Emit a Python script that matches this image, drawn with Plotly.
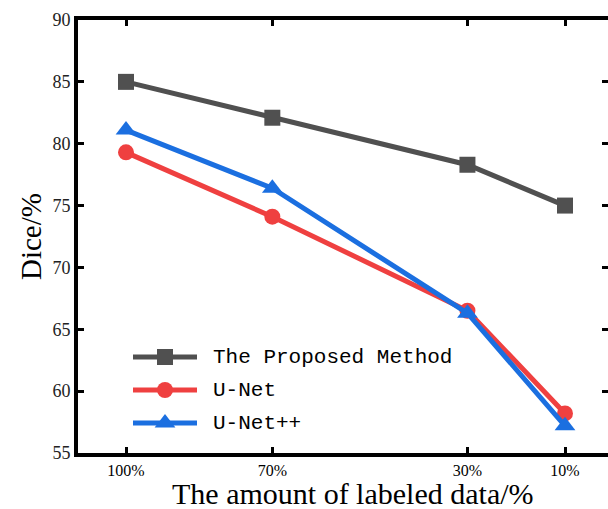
import plotly.graph_objects as go

# ---- data ----
labeled_pct = [100, 70, 30, 10]
tick_labels = ["100%", "70%", "30%", "10%"]
proposed = [85.0, 82.1, 78.3, 75.0]
unet = [79.3, 74.1, 66.5, 58.2]
unetpp = [81.1, 76.4, 66.3, 57.2]
series_names = ["The Proposed Method", "U-Net", "U-Net++"]

# ---- style ----
W, H = 608, 509
L, R, T, B = 78, 608, 20, 453
colors = ["#505050", "#ef4040", "#1b6fe0"]
symbols = ["square", "circle", "triangle-up"]
msizes = [16, 16, 18]
serif = "Liberation Serif, Times New Roman, serif"
mono = "Liberation Mono, Courier New, monospace"


def px2paper(px, py):
    return (px - L) / (R - L), (B - py) / (B - T)


fig = go.Figure()
for name, ys, c, s, ms in zip(series_names, [proposed, unet, unetpp], colors, symbols, msizes):
    fig.add_trace(go.Scatter(
        x=labeled_pct, y=ys, mode="lines+markers", name=name,
        line=dict(color=c, width=5),
        marker=dict(symbol=s, size=ms, color=c),
        showlegend=False, cliponaxis=False,
    ))

# custom legend drawn in pixel-space overlay axes
leg_rows = [357, 390, 423]
leg_x0, leg_x1, leg_mx, leg_tx = 133, 197, 165, 212
for name, c, s, ms, ry in zip(series_names, colors, symbols, msizes, leg_rows):
    fig.add_trace(go.Scatter(
        x=[leg_x0, leg_x1], y=[ry, ry], mode="lines", xaxis="x2", yaxis="y2",
        line=dict(color=c, width=5), showlegend=False, hoverinfo="skip",
    ))
    fig.add_trace(go.Scatter(
        x=[leg_mx], y=[ry], mode="markers", xaxis="x2", yaxis="y2",
        marker=dict(symbol=s, size=ms, color=c), showlegend=False, hoverinfo="skip",
    ))
    ax, ay = px2paper(leg_tx - 1, ry)
    fig.add_annotation(x=ax, y=ay, xref="paper", yref="paper", text=name,
                       showarrow=False, xanchor="left", yanchor="middle",
                       font=dict(family=mono, size=21, color="black"))

# axis titles
ax, ay = px2paper(353, 493)
fig.add_annotation(x=ax, y=ay, xref="paper", yref="paper", text="The amount of labeled data/%",
                   showarrow=False, xanchor="center", yanchor="middle",
                   font=dict(family=serif, size=30, color="black"))
ax, ay = px2paper(31, 237)
fig.add_annotation(x=ax, y=ay, xref="paper", yref="paper", text="Dice/%", textangle=-90,
                   showarrow=False, xanchor="center", yanchor="middle",
                   font=dict(family=serif, size=29, color="black"))

px_per = (565 - 126) / 90.0
xr = [100 + (126 - L) / px_per, 10 - (R - 565) / px_per]

axis_common = dict(
    showline=True, linewidth=4, linecolor="black", mirror="ticks",
    ticks="inside", ticklen=6, tickwidth=3, tickcolor="black",
    showgrid=False, zeroline=False, automargin=False,
)

fig.update_layout(
    width=W, height=H,
    margin=dict(l=L, r=W - R, t=T, b=H - B, autoexpand=False),
    paper_bgcolor="white", plot_bgcolor="white",
    xaxis=dict(range=xr, tickvals=labeled_pct, ticktext=tick_labels,
               tickfont=dict(family=serif, size=16, color="black"),
               **axis_common),
    yaxis=dict(range=[55, 90], tickvals=[55, 60, 65, 70, 75, 80, 85, 90],
               tickfont=dict(family=serif, size=18, color="#222"),
               **axis_common),
    xaxis2=dict(range=[L, R], overlaying="x", visible=False, fixedrange=True),
    yaxis2=dict(range=[B, T], overlaying="y", visible=False, fixedrange=True),
)

fig.write_html("out.html", config={"displayModeBar": False},
               post_script="document.body.style.margin='0';document.body.style.overflow='hidden';")
